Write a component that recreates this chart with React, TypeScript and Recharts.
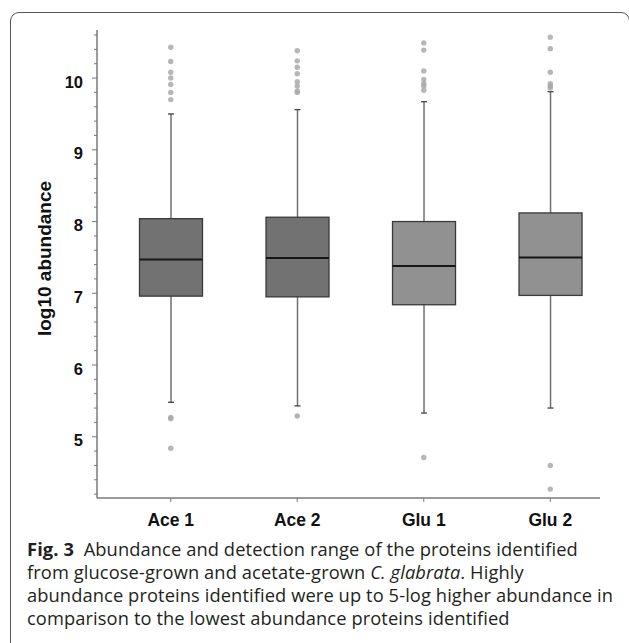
import React from 'react';
import { ComposedChart, Bar, Scatter, XAxis, YAxis } from 'recharts';

// ---- data ----
const categories = ['Ace 1', 'Ace 2', 'Glu 1', 'Glu 2'];
const positions = [1, 2, 3, 4];
const whiskerLow = [5.48, 5.43, 5.33, 5.40];
const q1 = [6.96, 6.95, 6.84, 6.97];
const median = [7.47, 7.49, 7.38, 7.50];
const q3 = [8.04, 8.06, 8.0, 8.12];
const whiskerHigh = [9.5, 9.56, 9.67, 9.81];

const ace1Outliers = [10.43, 10.23, 10.08, 10.0, 9.91, 9.8, 9.7, 5.27, 5.25, 4.84];
const ace2Outliers = [10.38, 10.24, 10.15, 10.06, 9.95, 9.89, 9.82, 9.8, 5.29];
const glu1Outliers = [10.49, 10.39, 10.1, 9.98, 9.92, 9.89, 9.83, 4.71];
const glu2Outliers = [10.57, 10.41, 10.08, 9.92, 9.89, 9.86, 4.6, 4.27];
const outliers = [ace1Outliers, ace2Outliers, glu1Outliers, glu2Outliers];

const yTicks = [
  4.2, 4.4, 4.6, 4.8, 5, 5.2, 5.4, 5.6, 5.8, 6, 6.2, 6.4, 6.6, 6.8, 7, 7.2, 7.4, 7.6, 7.8, 8,
  8.2, 8.4, 8.6, 8.8, 9, 9.2, 9.4, 9.6, 9.8, 10, 10.2, 10.4, 10.6,
];
const yDomain = [4.146, 10.67];
const xDomain = [0.417, 4.393];

const yLabel = 'log10 abundance';

// ---- styles ----
const BOX_FILL: Record<string, string> = {
  'Ace 1': '#727272',
  'Ace 2': '#727272',
  'Glu 1': '#919191',
  'Glu 2': '#919191',
};
const AXIS = '#7a7a7a';
const LABEL_FONT = '"Liberation Sans", Arial, sans-serif';

const boxData = categories.map((name, i) => ({
  x: positions[i],
  name,
  range: [whiskerLow[i], whiskerHigh[i]],
  lo: whiskerLow[i],
  hi: whiskerHigh[i],
  q1: q1[i],
  median: median[i],
  q3: q3[i],
}));

const outlierPoints = outliers.flatMap((vals, i) => vals.map((v) => ({ x: positions[i], y: v })));

const BoxShape = (props: any) => {
  const { x, y, width, height, payload } = props;
  if (!payload) return null;
  const top = Math.min(y, y + height);
  const h = Math.abs(height);
  const ppu = h / (payload.hi - payload.lo);
  const yOf = (v: number) => top + (payload.hi - v) * ppu;
  const cx = x + width / 2;
  const capW = 3;
  const fill = BOX_FILL[payload.name];
  return (
    <g>
      <line x1={cx} x2={cx} y1={yOf(payload.hi)} y2={yOf(payload.lo)} stroke="#707070" strokeWidth={1.5} />
      <line x1={cx - capW} x2={cx + capW} y1={yOf(payload.hi)} y2={yOf(payload.hi)} stroke="#444" strokeWidth={1.3} />
      <line x1={cx - capW} x2={cx + capW} y1={yOf(payload.lo)} y2={yOf(payload.lo)} stroke="#444" strokeWidth={1.3} />
      <rect
        x={x}
        y={yOf(payload.q3)}
        width={width}
        height={yOf(payload.q1) - yOf(payload.q3)}
        fill={fill}
        stroke="#3a3a3a"
        strokeWidth={1.3}
      />
      <line x1={x} x2={x + width} y1={yOf(payload.median)} y2={yOf(payload.median)} stroke="#161616" strokeWidth={2} />
    </g>
  );
};

const OutlierShape = (props: any) => {
  const { cx, cy } = props;
  return <circle cx={cx} cy={cy} r={2.7} fill="#a9a9a9" fillOpacity={0.85} />;
};

const YTick = (props: any) => {
  const { x, y, payload } = props;
  const v = payload.value;
  const major = Math.abs(v - Math.round(v)) < 1e-6;
  return (
    <g>
      <line x1={x - (major ? 5 : 3)} x2={x} y1={y} y2={y} stroke={AXIS} strokeWidth={1} />
      {major && (
        <text
          x={x - 14}
          y={y + 9.5}
          textAnchor="end"
          style={{ fontFamily: LABEL_FONT, fontWeight: 'bold', fontSize: 16.5 }}
          fill="#111"
        >
          {Math.round(v)}
        </text>
      )}
    </g>
  );
};

const XTick = (props: any) => {
  const { x, y, payload } = props;
  const idx = positions.indexOf(payload.value);
  return (
    <text
      x={x}
      y={y + 24}
      textAnchor="middle"
      style={{ fontFamily: LABEL_FONT, fontWeight: 'bold', fontSize: 17.5 }}
      fill="#111"
    >
      {categories[idx]}
    </text>
  );
};

const YLabel = () => (
  <text
    x={51}
    y={258.5}
    transform="rotate(-90 51 258.5)"
    textAnchor="middle"
    style={{ fontFamily: LABEL_FONT, fontWeight: 'bold', fontSize: 19 }}
    fill="#111"
  >
    {yLabel}
  </text>
);

export default function App() {
  return (
    <div
      style={{
        position: 'fixed',
        left: 0,
        top: 0,
        width: 629,
        height: 643,
        overflow: 'hidden',
        background: '#fff',
      }}
    >
      <div
        style={{
          position: 'absolute',
          left: 10,
          top: 12,
          width: 620,
          height: 640,
          border: '1px solid #555',
          borderRadius: 9,
          boxSizing: 'border-box',
        }}
      />
      <div style={{ position: 'absolute', left: 0, top: 0 }}>
        <ComposedChart
          width={629}
          height={540}
          data={boxData}
          margin={{ top: 30, right: 29, bottom: 12, left: 0 }}
        >
          <XAxis
            type="number"
            dataKey="x"
            domain={xDomain}
            allowDataOverflow
            ticks={positions}
            interval={0}
            height={30}
            axisLine={{ stroke: AXIS, strokeWidth: 1.5 }}
            tickLine={{ stroke: AXIS }}
            tickSize={4}
            tickMargin={0}
            tick={<XTick />}
          />
          <YAxis
            type="number"
            domain={yDomain}
            allowDataOverflow
            ticks={yTicks}
            interval={0}
            width={97}
            axisLine={{ stroke: AXIS, strokeWidth: 1.5 }}
            tickLine={false}
            tickSize={0}
            tickMargin={0}
            tick={<YTick />}
            label={<YLabel />}
          />
          <Bar dataKey="range" barSize={63} shape={<BoxShape />} isAnimationActive={false} />
          <Scatter data={outlierPoints} dataKey="y" shape={<OutlierShape />} isAnimationActive={false} />
        </ComposedChart>
      </div>
      <div
        style={{
          position: 'absolute',
          left: 27,
          top: 537,
          whiteSpace: 'nowrap',
          fontFamily: '"Open Sans", sans-serif',
          fontSize: 18.3,
          letterSpacing: '0.1px',
          lineHeight: '23px',
          color: '#231f20',
        }}
      >
        <b>Fig. 3</b>&nbsp; Abundance and detection range of the proteins identified
        <br />
        from glucose-grown and acetate-grown <i>C. glabrata</i>. Highly
        <br />
        abundance proteins identified were up to 5-log higher abundance in
        <br />
        comparison to the lowest abundance proteins identified
      </div>
    </div>
  );
}
